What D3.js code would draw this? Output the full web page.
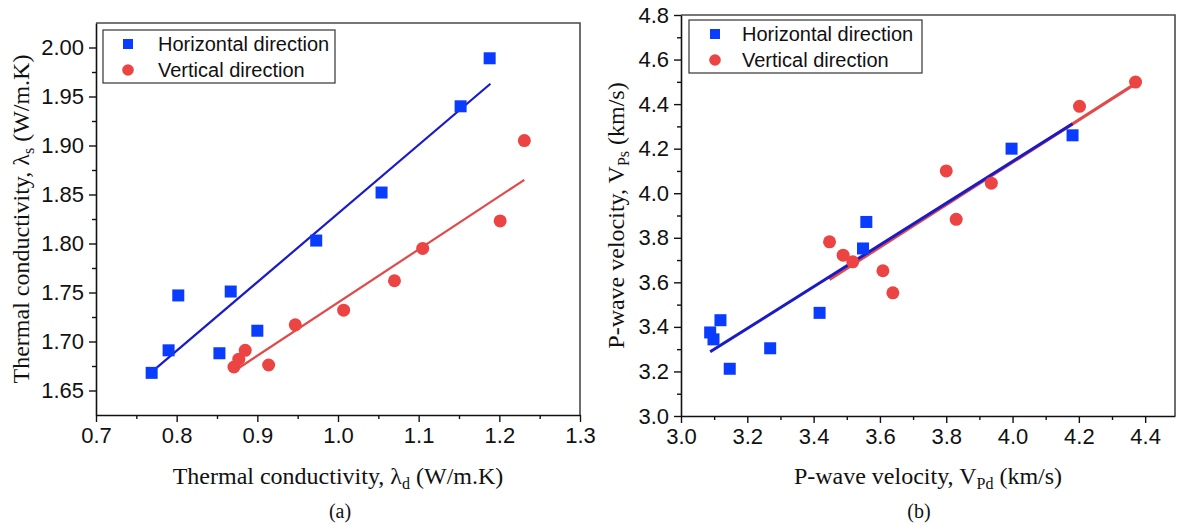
<!DOCTYPE html>
<html>
<head>
<meta charset="utf-8">
<script src="https://cdn.jsdelivr.net/npm/d3@7"></script>
<style>
  html, body { margin: 0; padding: 0; background: #fff; }
  svg { display: block; }
</style>
</head>
<body>
<svg id="chart" width="1177" height="526"></svg>
<script>
// ---------- Panel (a): thermal conductivity ----------
const aHorizX = [0.769, 0.790, 0.802, 0.853, 0.867, 0.900, 0.973, 1.054, 1.152, 1.188];
const aHorizY = [1.668, 1.691, 1.747, 1.688, 1.751, 1.711, 1.803, 1.852, 1.940, 1.989];
const aVertX  = [0.871, 0.877, 0.885, 0.914, 0.947, 1.007, 1.070, 1.105, 1.201, 1.231];
const aVertY  = [1.674, 1.682, 1.691, 1.676, 1.717, 1.732, 1.762, 1.795, 1.823, 1.905];
const aFitHorizX = [0.775, 1.189];
const aFitHorizY = [1.673, 1.963];
const aFitVertX  = [0.877, 1.231];
const aFitVertY  = [1.673, 1.865];
const aXTicks = [0.7, 0.8, 0.9, 1.0, 1.1, 1.2, 1.3];
const aXMinor = [0.75, 0.85, 0.95, 1.05, 1.15, 1.25];
const aYTicks = [1.65, 1.70, 1.75, 1.80, 1.85, 1.90, 1.95, 2.00];
const aYMinor = [1.675, 1.725, 1.775, 1.825, 1.875, 1.925, 1.975];
const aXDomain = [0.7, 1.3];
const aYDomain = [1.625, 2.025];

// ---------- Panel (b): P-wave velocity ----------
const bHorizX = [3.088, 3.098, 3.119, 3.147, 3.269, 3.418, 3.549, 3.559, 3.997, 4.181];
const bHorizY = [3.375, 3.344, 3.430, 3.212, 3.304, 3.463, 3.752, 3.871, 4.200, 4.260];
const bVertX  = [3.448, 3.489, 3.518, 3.609, 3.639, 3.800, 3.830, 3.936, 4.202, 4.371];
const bVertY  = [3.782, 3.722, 3.692, 3.652, 3.553, 4.100, 3.883, 4.045, 4.390, 4.499];
const bFitHorizX = [3.088, 4.181];
const bFitHorizY = [3.288, 4.312];
const bFitVertX  = [3.448, 4.371];
const bFitVertY  = [3.613, 4.492];
const bXTicks = [3.0, 3.2, 3.4, 3.6, 3.8, 4.0, 4.2, 4.4];
const bXMinor = [3.1, 3.3, 3.5, 3.7, 3.9, 4.1, 4.3];
const bYTicks = [3.0, 3.2, 3.4, 3.6, 3.8, 4.0, 4.2, 4.4, 4.6, 4.8];
const bYMinor = [3.1, 3.3, 3.5, 3.7, 3.9, 4.1, 4.3, 4.5, 4.7];
const bXDomain = [3.0, 4.49];
const bYDomain = [3.0, 4.8];

const legendLabels = ["Horizontal direction", "Vertical direction"];

const BLUE = "#0a3cff", RED = "#ec4343";
const BLUE_LINE = "#1a1ac8", RED_LINE = "#e04a4a";
const SANS = "'Liberation Sans', Arial, sans-serif";
const SERIF = "'Liberation Serif', 'Times New Roman', serif";

const svg = d3.select("#chart");

function panel(cfg) {
  const x = d3.scaleLinear().domain(cfg.xDomain).range(cfg.xRange);
  const y = d3.scaleLinear().domain(cfg.yDomain).range(cfg.yRange);
  const g = svg.append("g");
  const [x0, x1] = cfg.xRange, [y0, y1] = cfg.yRange; // y0 bottom, y1 top

  // frame top and right
  g.append("path")
    .attr("d", `M${x0},${y1}H${x1}V${y0}`)
    .attr("fill", "none").attr("stroke", "#4a4a4a").attr("stroke-width", 1.6);

  // minor ticks
  const xMinorAxis = d3.axisBottom(x).tickValues(cfg.xMinor).tickSize(4).tickFormat("").tickSizeOuter(0);
  const yMinorAxis = d3.axisLeft(y).tickValues(cfg.yMinor).tickSize(4).tickFormat("").tickSizeOuter(0);
  g.append("g").attr("transform", `translate(0,${y0})`).call(xMinorAxis).call(s => s.select(".domain").remove());
  g.append("g").attr("transform", `translate(${x0},0)`).call(yMinorAxis).call(s => s.select(".domain").remove());

  // major axes
  const xAxis = d3.axisBottom(x).tickValues(cfg.xTicks).tickSize(7).tickPadding(5)
    .tickFormat(d3.format(cfg.xFmt)).tickSizeOuter(0);
  const yAxis = d3.axisLeft(y).tickValues(cfg.yTicks).tickSize(7).tickPadding(5)
    .tickFormat(d3.format(cfg.yFmt)).tickSizeOuter(0);
  const gx = g.append("g").attr("transform", `translate(0,${y0})`).call(xAxis);
  const gy = g.append("g").attr("transform", `translate(${x0},0)`).call(yAxis);
  [gx, gy].forEach(a => {
    a.selectAll("text").attr("font-family", SANS).attr("font-size", 22).attr("fill", "#111");
    a.selectAll("line").attr("stroke", "#111").attr("stroke-width", 1.4);
    a.select(".domain").attr("stroke", "#111").attr("stroke-width", 1.6);
  });
  g.selectAll(".tick line").attr("stroke", "#111").attr("stroke-width", 1.4);

  // fit lines
  const line = d3.line().x(d => x(d[0])).y(d => y(d[1]));
  cfg.fits.forEach(f => {
    g.append("path").datum(d3.zip(f.xs, f.ys))
      .attr("d", line).attr("fill", "none")
      .attr("stroke", f.color).attr("stroke-width", f.width);
  });

  // squares
  const sq = 12;
  g.append("g").selectAll("rect").data(d3.zip(cfg.hx, cfg.hy)).join("rect")
    .attr("x", d => x(d[0]) - sq / 2).attr("y", d => y(d[1]) - sq / 2)
    .attr("width", sq).attr("height", sq).attr("fill", BLUE);
  // circles
  g.append("g").selectAll("circle").data(d3.zip(cfg.vx, cfg.vy)).join("circle")
    .attr("cx", d => x(d[0])).attr("cy", d => y(d[1])).attr("r", 6.5).attr("fill", RED);

  // legend
  const L = cfg.legend;
  const lg = g.append("g");
  lg.append("rect").attr("x", L.x).attr("y", L.y).attr("width", L.w).attr("height", L.h)
    .attr("fill", "#fff").attr("stroke", "#333").attr("stroke-width", 1.2);
  lg.append("rect").attr("x", L.mx - 5).attr("y", L.y + 14 - 5).attr("width", 10).attr("height", 10).attr("fill", BLUE);
  lg.append("circle").attr("cx", L.mx).attr("cy", L.y + 40).attr("r", 5.8).attr("fill", RED);
  legendLabels.forEach((t, i) => {
    lg.append("text").attr("x", L.tx).attr("y", L.y + 14 + i * 26).attr("dy", "0.36em")
      .attr("font-family", SANS).attr("font-size", 20).attr("fill", "#111").text(t);
  });

  // x title
  const xt = g.append("text").attr("x", (x0 + x1) / 2).attr("y", 484)
    .attr("text-anchor", "middle").attr("font-family", SERIF).attr("font-size", 24).attr("fill", "#111");
  cfg.xTitle.forEach(p => {
    const ts = xt.append("tspan").text(p.t);
    if (p.sub) ts.attr("font-size", 16).attr("dy", 5);
    else if (p.after) ts.attr("dy", -5);
  });
  // y title
  const yc = (y0 + y1) / 2;
  const yt = g.append("text").attr("transform", `translate(${cfg.yTitleX},${yc}) rotate(-90)`)
    .attr("text-anchor", "middle").attr("font-family", SERIF).attr("font-size", 24).attr("fill", "#111");
  cfg.yTitle.forEach(p => {
    const ts = yt.append("tspan").text(p.t);
    if (p.sub) ts.attr("font-size", 16).attr("dy", 5);
    else if (p.after) ts.attr("dy", -5);
  });
  // panel label
  g.append("text").attr("x", cfg.labelX).attr("y", 518).attr("text-anchor", "middle")
    .attr("font-family", SERIF).attr("font-size", 20).attr("fill", "#111").text(cfg.label);
}

panel({
  xDomain: aXDomain, yDomain: aYDomain, xRange: [96, 580], yRange: [415, 23],
  xTicks: aXTicks, xMinor: aXMinor, yTicks: aYTicks, yMinor: aYMinor, xFmt: ".1f", yFmt: ".2f",
  hx: aHorizX, hy: aHorizY, vx: aVertX, vy: aVertY,
  fits: [
    { xs: aFitHorizX, ys: aFitHorizY, color: BLUE_LINE, width: 2.2 },
    { xs: aFitVertX, ys: aFitVertY, color: RED_LINE, width: 2.2 }
  ],
  legend: { x: 103, y: 30, w: 232, h: 53, mx: 128, tx: 158 },
  xTitle: [{ t: "Thermal conductivity, λ" }, { t: "d", sub: true }, { t: " (W/m.K)", after: true }],
  yTitle: [{ t: "Thermal conductivity, λ" }, { t: "s", sub: true }, { t: " (W/m.K)", after: true }],
  yTitleX: 29, label: "(a)", labelX: 340
});

panel({
  xDomain: bXDomain, yDomain: bYDomain, xRange: [681, 1175], yRange: [416, 15],
  xTicks: bXTicks, xMinor: bXMinor, yTicks: bYTicks, yMinor: bYMinor, xFmt: ".1f", yFmt: ".1f",
  hx: bHorizX, hy: bHorizY, vx: bVertX, vy: bVertY,
  fits: [
    { xs: bFitVertX, ys: bFitVertY, color: RED_LINE, width: 3 },
    { xs: bFitHorizX, ys: bFitHorizY, color: BLUE_LINE, width: 3 }
  ],
  legend: { x: 689, y: 20, w: 233, h: 53, mx: 715, tx: 742 },
  xTitle: [{ t: "P-wave velocity, V" }, { t: "Pd", sub: true }, { t: " (km/s)", after: true }],
  yTitle: [{ t: "P-wave velocity, V" }, { t: "Ps", sub: true }, { t: " (km/s)", after: true }],
  yTitleX: 624, label: "(b)", labelX: 919
});
</script>
</body>
</html>
